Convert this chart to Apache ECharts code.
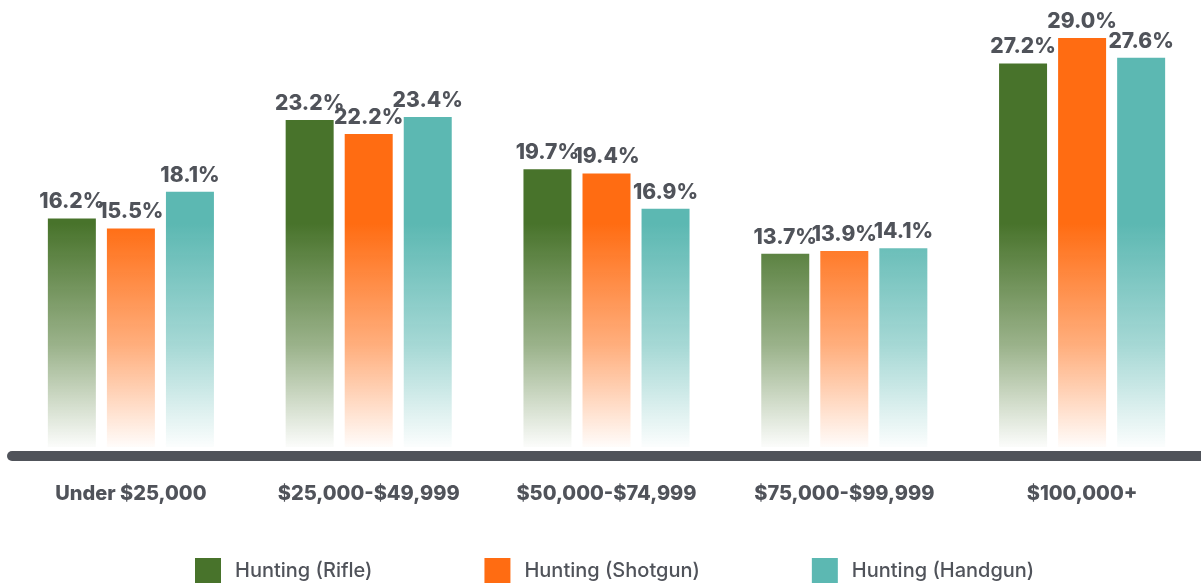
<!DOCTYPE html>
<html>
<head>
<meta charset="utf-8">
<script src="https://cdn.jsdelivr.net/npm/echarts@6/dist/echarts.min.js"></script>
<style>
  html, body { margin: 0; padding: 0; background: #fff; }
  #chart { width: 1201px; height: 583px; }
</style>
</head>
<body>
<div id="chart"></div>
<script>
const categories = ['Under $25,000', '$25,000-$49,999', '$50,000-$74,999', '$75,000-$99,999', '$100,000+'];
const rifle = [16.2, 23.2, 19.7, 13.7, 27.2];
const shotgun = [15.5, 22.2, 19.4, 13.9, 29.0];
const handgun = [18.1, 23.4, 16.9, 14.1, 27.6];
const seriesNames = ['Hunting (Rifle)', 'Hunting (Shotgun)', 'Hunting (Handgun)'];
const colors = ['#48732b', '#ff6c12', '#5cb8b2'];

const textColor = '#50535a';
const font = 'Inter, "Liberation Sans", sans-serif';

// 全局渐变：上部实色，底部淡出
function fade(c) {
  const r = parseInt(c.slice(1, 3), 16), g = parseInt(c.slice(3, 5), 16), b = parseInt(c.slice(5, 7), 16);
  return {
    type: 'linear', x: 0, y: 40, x2: 0, y2: 447, global: true,
    colorStops: [
      { offset: 0, color: c },
      { offset: 0.45, color: c },
      { offset: 0.75, color: `rgba(${r},${g},${b},0.55)` },
      { offset: 1, color: `rgba(${r},${g},${b},0.02)` }
    ]
  };
}

const chart = echarts.init(document.getElementById('chart'));
const data = [rifle, shotgun, handgun];

chart.setOption({
  animation: false,
  grid: { left: 12, right: 0, top: 24, bottom: 136 },
  legend: {
    left: 195, top: 558, padding: 0,
    itemWidth: 26, itemHeight: 26, itemGap: 112,
    icon: 'rect',
    textStyle: { color: textColor, fontSize: 20, fontWeight: 500, fontFamily: font, padding: [0, 0, 0, 9] },
    data: seriesNames
  },
  xAxis: {
    type: 'category',
    data: categories,
    offset: 9,
    axisLine: { onZero: false, lineStyle: { color: textColor, width: 10, cap: 'round' } },
    axisTick: { show: false },
    axisLabel: { color: textColor, fontSize: 20, fontWeight: 800, fontFamily: font, margin: 28 }
  },
  yAxis: { type: 'value', min: 0, max: 30, show: false, splitLine: { show: false } },
  series: seriesNames.map((name, i) => ({
    name,
    type: 'bar',
    data: data[i],
    barWidth: 48,
    barGap: '23%',
    color: colors[i],
    itemStyle: { color: fade(colors[i]) },
    label: {
      show: true, position: 'top', distance: 6,
      color: textColor, fontSize: 21, fontWeight: 800, fontFamily: font,
      formatter: p => p.value.toFixed(1) + '%'
    }
  }))
});
</script>
</body>
</html>
